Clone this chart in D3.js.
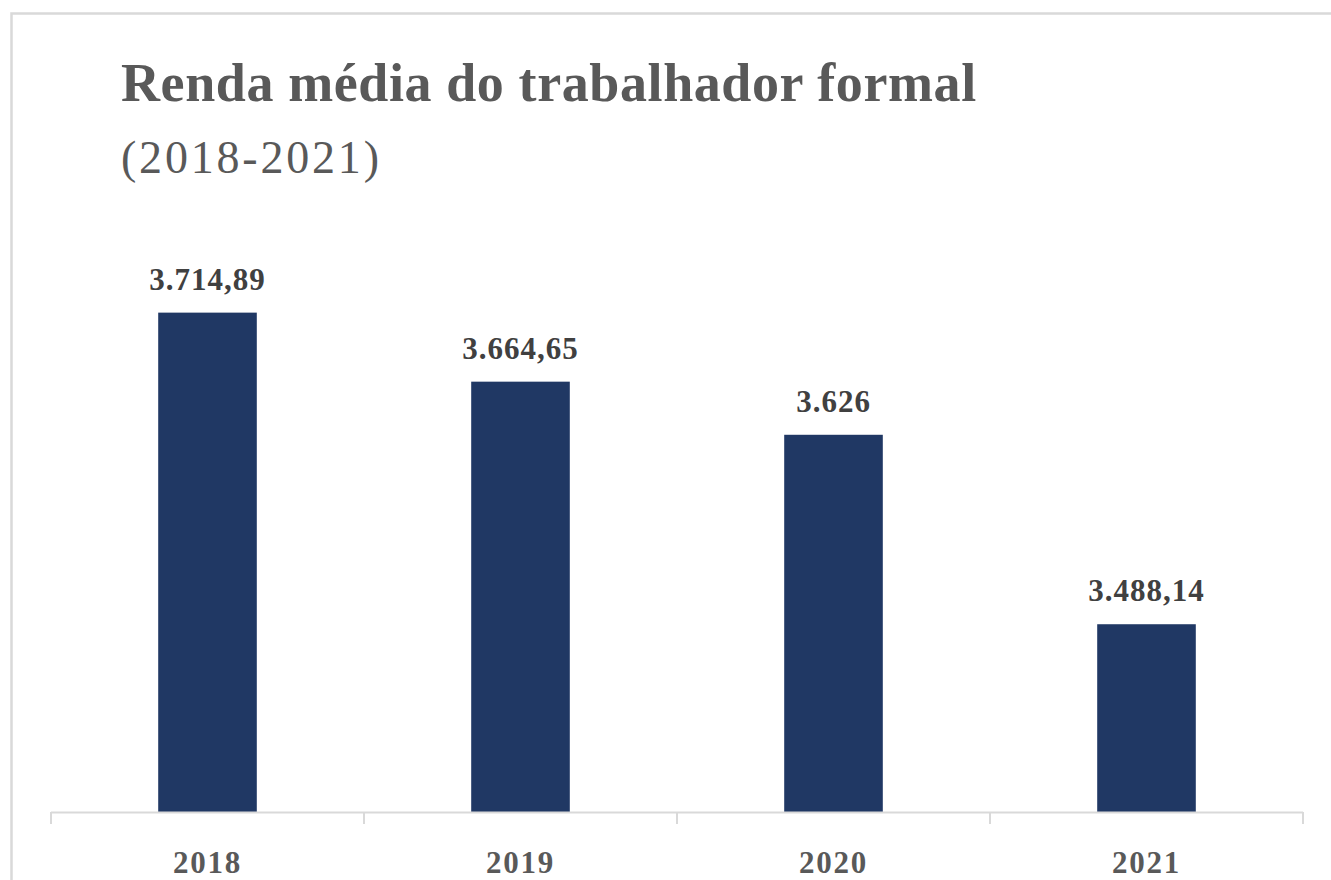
<!DOCTYPE html>
<html>
<head>
<meta charset="utf-8">
<script src="https://cdn.jsdelivr.net/npm/d3@7"></script>
<style>
  html, body { margin: 0; padding: 0; background: #fff; overflow: hidden; }
  svg { display: block; }
</style>
</head>
<body>
<svg id="chart" width="1331" height="880"></svg>
<script>
const years = ["2018", "2019", "2020", "2021"];
const values = [3714.89, 3664.65, 3626, 3488.14];
const valueLabels = ["3.714,89", "3.664,65", "3.626", "3.488,14"];
const titleText = "Renda média do trabalhador formal";
const subtitleText = "(2018-2021)";
const yDomain = [3351.5, 3751.5];

const svg = d3.select("#chart");
const serif = "'Liberation Serif', 'Times New Roman', serif";

// frame (extends past right and bottom edges)
svg.append("rect")
  .attr("x", 11.5).attr("y", 13.5)
  .attr("width", 1400).attr("height", 1000)
  .attr("fill", "none").attr("stroke", "#d9d9d9").attr("stroke-width", 2.5);

// title
svg.append("text")
  .attr("x", 121).attr("y", 101)
  .attr("font-family", serif).attr("font-weight", "bold")
  .attr("font-size", 54).attr("letter-spacing", 0.6).attr("fill", "#595959")
  .text(titleText);

svg.append("text")
  .attr("x", 121).attr("y", 173)
  .attr("font-family", serif).attr("font-weight", "normal")
  .attr("font-size", 46).attr("letter-spacing", 2.8).attr("fill", "#595959")
  .text(subtitleText);

const baseY = 812;
const x = d3.scaleBand().domain(years).range([51, 1303]).paddingInner(0.685).paddingOuter(0.3425);
const y = d3.scaleLinear().domain(yDomain).range([baseY, baseY - 400 * 1.3742]);

// bars
svg.append("g").selectAll("rect")
  .data(years)
  .join("rect")
  .attr("x", d => x(d))
  .attr("y", (d, i) => y(values[i]))
  .attr("width", x.bandwidth())
  .attr("height", (d, i) => baseY - y(values[i]))
  .attr("fill", "#203864");

// value labels
svg.append("g").selectAll("text")
  .data(years)
  .join("text")
  .attr("x", d => x(d) + x.bandwidth() / 2)
  .attr("y", (d, i) => y(values[i]) - 23)
  .attr("text-anchor", "middle")
  .attr("font-family", serif).attr("font-weight", "bold")
  .attr("font-size", 31).attr("letter-spacing", 1).attr("fill", "#404040")
  .text((d, i) => valueLabels[i]);

// x axis: line with ticks at band boundaries
const axisG = svg.append("g");
axisG.append("line")
  .attr("x1", 51).attr("x2", 1303)
  .attr("y1", baseY + 0.5).attr("y2", baseY + 0.5)
  .attr("stroke", "#d9d9d9").attr("stroke-width", 2);
const boundaries = years.map(d => x(d) - x.step() * x.paddingInner() / 2).concat([1303]);
boundaries[0] = 51;
axisG.selectAll("line.tick")
  .data(boundaries)
  .join("line").attr("class", "tick")
  .attr("x1", d => d).attr("x2", d => d)
  .attr("y1", baseY).attr("y2", baseY + 12)
  .attr("stroke", "#d9d9d9").attr("stroke-width", 2);

axisG.selectAll("text")
  .data(years)
  .join("text")
  .attr("x", d => x(d) + x.bandwidth() / 2)
  .attr("y", 873)
  .attr("text-anchor", "middle")
  .attr("font-family", serif).attr("font-weight", "bold")
  .attr("font-size", 31).attr("letter-spacing", 1.8).attr("fill", "#595959")
  .text(d => d);
</script>
</body>
</html>
